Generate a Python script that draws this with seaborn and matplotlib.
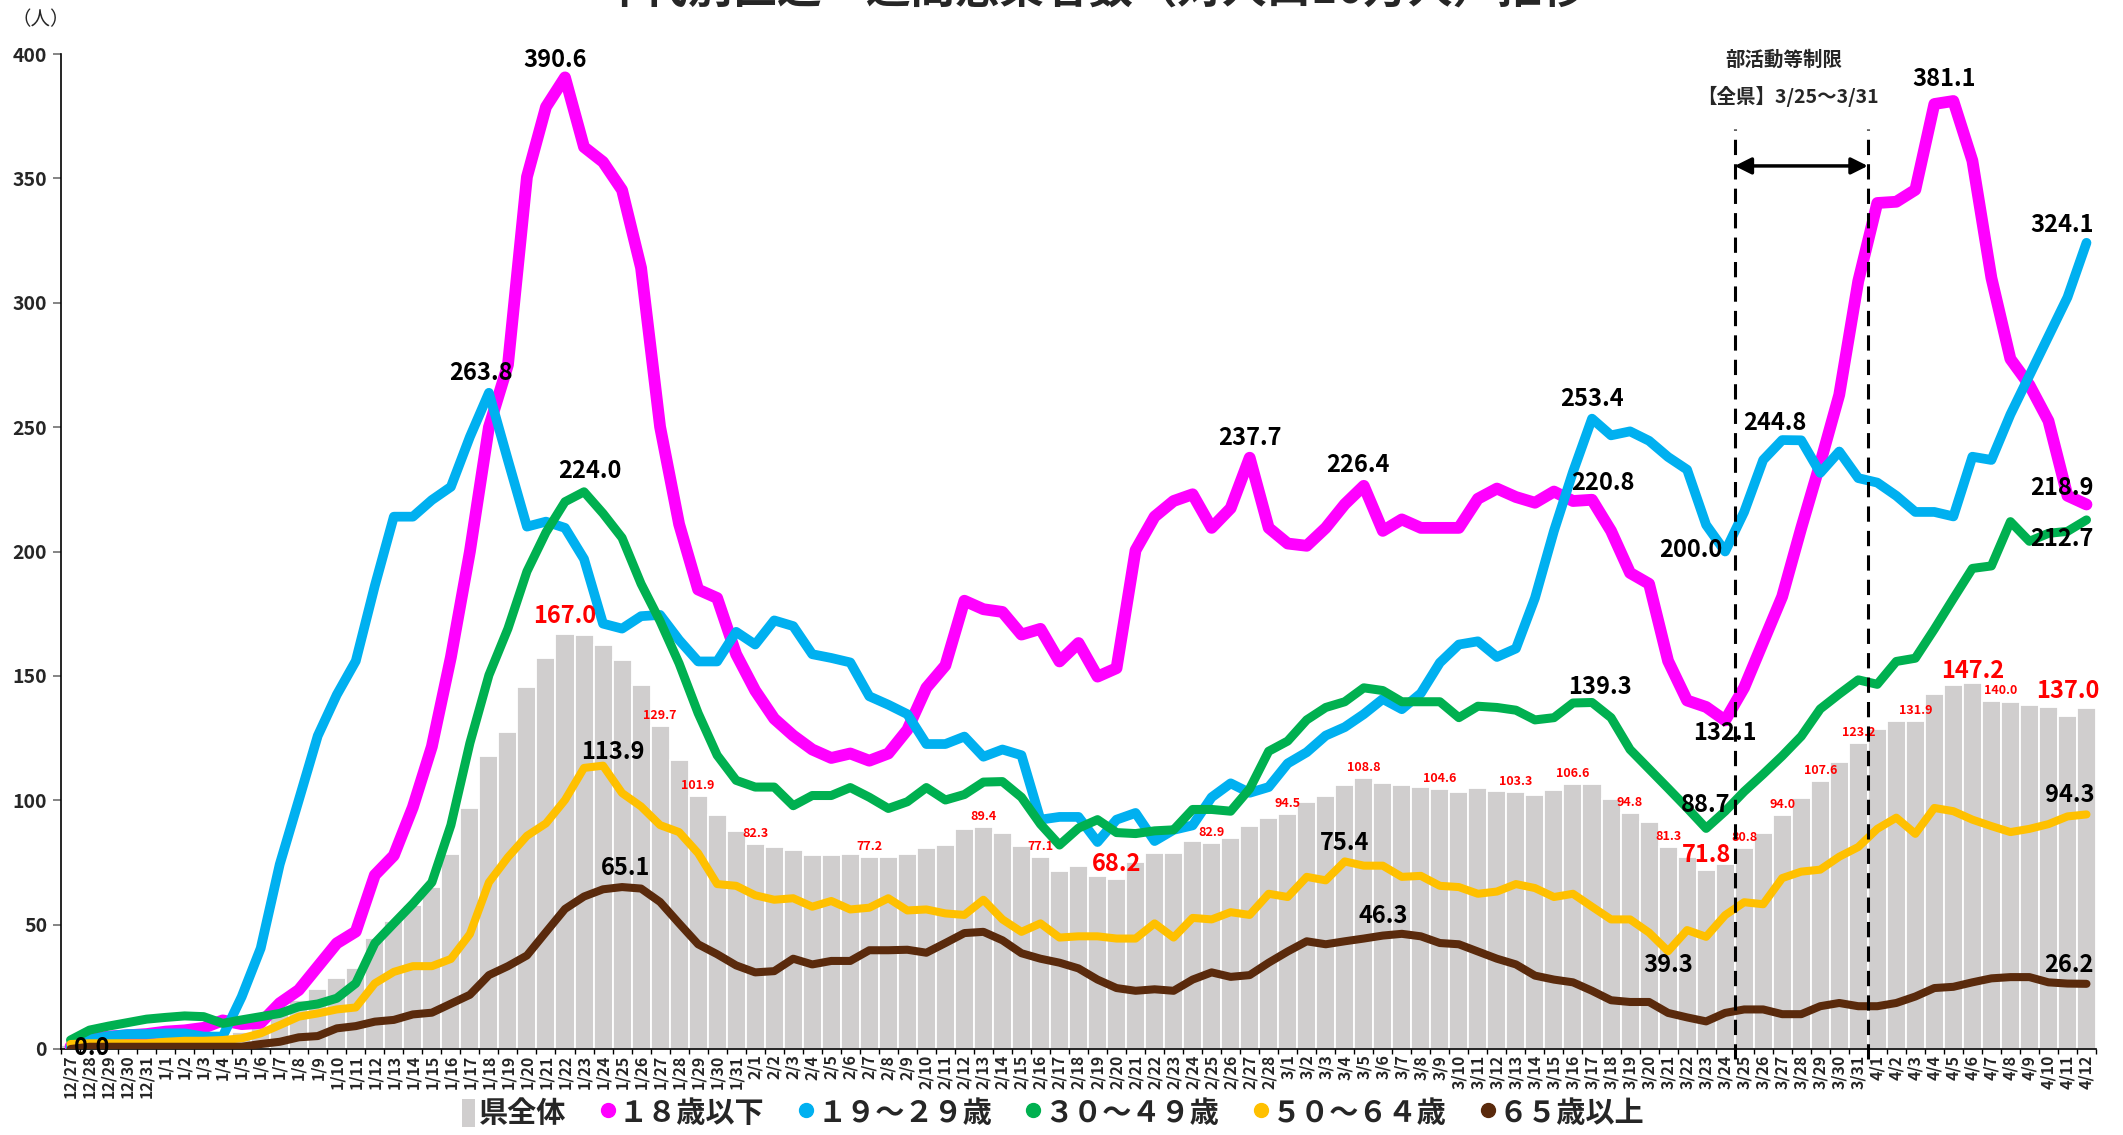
import pandas as pd
import numpy as np
import matplotlib
matplotlib.use("Agg")
import matplotlib.pyplot as plt
import seaborn as sns
from matplotlib.patches import Patch
from matplotlib.lines import Line2D

dates = [f"{d.month}/{d.day}" for d in pd.date_range("2020-12-27", "2021-04-12")]

total = [1.5, 3.0, 3.7, 4.2, 4.6, 5.0, 5.3, 5.4, 5.3, 7.0, 9.0, 14.0, 19.7, 24.0, 28.5, 32.6,
         44.8, 51.5, 58.0, 65.2, 78.5, 96.9, 117.6, 127.3, 145.7, 157.3, 167.0, 166.5, 162.4, 156.3,
         146.2, 129.7, 116.3, 101.9, 94.2, 87.5, 82.3, 81.4, 80.2, 77.8, 77.8, 78.4, 77.2, 77.3,
         78.4, 80.7, 82.0, 88.6, 89.4, 86.8, 81.6, 77.1, 71.5, 73.5, 69.6, 68.2, 75.3, 78.7, 78.7,
         83.6, 82.9, 85.0, 89.7, 92.7, 94.5, 99.4, 101.9, 106.2, 108.8, 106.9, 106.0, 105.5, 104.6,
         103.5, 105.1, 103.9, 103.3, 102.1, 104.2, 106.6, 106.6, 100.5, 94.8, 91.1, 81.3, 77.0,
         71.8, 74.2, 80.8, 87.0, 94.0, 100.8, 107.6, 115.2, 123.2, 128.8, 131.7, 131.9, 142.9,
         146.3, 147.2, 140.0, 139.3, 138.2, 137.5, 134.0, 137.0]

age_18 = [1.0, 4.0, 5.0, 5.5, 6.0, 7.0, 7.5, 8.5, 11.5, 10.0, 10.5, 18.4, 23.7, 33.1, 42.5, 47.2,
          69.9, 77.8, 97.2, 121.6, 157.5, 200.0, 250.0, 275.0, 350.6, 378.7, 390.6, 362.6, 356.6,
          345.3, 314.0, 250.1, 211.0, 184.7, 181.3, 158.7, 144.1, 132.8, 126.0, 120.4, 117.0, 118.8,
          115.9, 118.8, 128.3, 145.2, 154.2, 180.2, 176.8, 175.7, 166.6, 168.9, 155.8, 163.2, 149.7,
          153.1, 200.5, 214.0, 220.3, 223.0, 209.5, 217.4, 237.7, 209.5, 203.2, 202.3, 209.5, 219.0,
          226.4, 208.3, 212.9, 209.5, 209.5, 209.5, 221.2, 225.3, 221.9, 219.6, 224.1, 220.3, 220.8,
          208.3, 191.4, 187.0, 156.0, 140.1, 137.5, 132.1, 145.3, 163.6, 181.9, 209.4, 235.5, 263.0,
          308.7, 340.1, 340.6, 345.4, 379.9, 381.1, 357.1, 310.0, 277.4, 266.9, 252.5, 222.4, 218.9]

age_19_29 = [0.9, 3.9, 5.2, 6.0, 6.0, 6.3, 6.3, 5.0, 5.0, 21.0, 40.5, 74.2, 100.0, 125.9, 142.4,
             156.0, 186.2, 214.0, 214.0, 220.7, 226.0, 246.1, 263.8, 236.7, 210.0, 212.0, 209.5,
             197.0, 171.0, 169.0, 174.0, 174.5, 164.4, 155.8, 155.8, 167.7, 162.6, 172.3, 170.0,
             158.7, 157.2, 155.4, 141.8, 138.4, 134.6, 122.6, 122.6, 125.6, 117.5, 120.4, 118.1,
             92.2, 93.3, 93.3, 83.2, 92.2, 94.9, 83.6, 88.1, 89.9, 101.2, 106.8, 103.0, 105.3,
             114.8, 119.3, 126.0, 129.4, 134.6, 140.7, 136.6, 143.0, 155.3, 162.6, 163.9, 157.6,
             161.0, 181.3, 208.3, 232.0, 253.4, 246.7, 248.3, 244.5, 238.0, 232.9, 210.7, 200.0,
             215.9, 236.8, 244.8, 244.7, 231.6, 240.2, 229.5, 227.7, 222.4, 215.9, 215.9, 214.1,
             238.1, 236.8, 255.1, 270.8, 286.5, 302.2, 324.1]

age_30_49 = [3.6, 7.6, 9.2, 10.6, 12.0, 12.7, 13.3, 13.0, 10.3, 11.7, 13.0, 14.3, 17.0, 18.1, 20.4,
             26.4, 42.5, 50.5, 58.4, 67.0, 90.0, 123.0, 150.3, 169.0, 192.0, 207.7, 220.0, 224.0,
             215.3, 205.5, 187.0, 172.0, 155.0, 135.0, 118.1, 108.0, 105.3, 105.3, 97.8, 101.9,
             101.9, 105.1, 101.2, 96.7, 99.4, 105.1, 100.1, 102.3, 107.3, 107.5, 101.2, 90.4, 82.0,
             88.8, 92.2, 87.0, 86.6, 87.7, 88.1, 96.3, 96.3, 95.6, 104.6, 119.7, 123.8, 132.3,
             137.3, 139.6, 145.2, 144.1, 139.6, 139.6, 139.6, 133.2, 137.8, 137.3, 136.2, 132.3,
             133.2, 139.1, 139.3, 133.2, 120.4, 112.6, 104.8, 96.9, 88.7, 95.6, 103.5, 110.5, 117.8,
             125.7, 136.7, 142.7, 148.4, 146.6, 155.8, 157.1, 168.8, 181.1, 193.2, 194.2, 212.0,
             204.1, 207.3, 208.1, 212.7]

age_50_64 = [2.0, 2.3, 2.3, 2.3, 2.3, 2.9, 3.3, 3.3, 3.6, 4.3, 6.3, 9.6, 13.0, 14.3, 15.9, 16.7,
             26.4, 31.0, 33.3, 33.3, 36.2, 46.2, 67.0, 77.1, 85.7, 90.7, 100.1, 113.0, 113.9, 102.9,
             97.5, 90.0, 87.2, 78.7, 66.3, 65.6, 61.8, 60.0, 60.6, 57.2, 59.5, 56.1, 56.8, 60.6, 55.7,
             56.1, 54.5, 53.9, 60.0, 52.1, 47.1, 50.5, 44.8, 45.3, 45.3, 44.4, 44.4, 50.5, 44.8, 52.7,
             52.1, 55.0, 53.9, 62.4, 61.1, 69.2, 67.8, 75.4, 73.7, 73.7, 69.2, 69.6, 65.6, 65.1, 62.4,
             63.3, 66.3, 64.7, 61.1, 62.4, 57.2, 52.1, 52.1, 46.8, 39.3, 47.8, 45.1, 53.8, 59.0, 58.2,
             68.7, 71.3, 72.1, 77.3, 81.2, 88.5, 93.0, 86.5, 96.9, 95.6, 92.2, 89.6, 87.2, 88.5, 90.4,
             93.5, 94.3]

age_65 = [0.0, 0.9, 0.9, 0.9, 0.9, 0.9, 0.9, 0.9, 0.9, 0.9, 2.0, 2.9, 4.7, 5.2, 8.3, 9.2, 11.0,
          11.7, 13.9, 14.6, 18.2, 21.8, 29.7, 33.3, 37.6, 47.0, 56.3, 61.3, 64.2, 65.1, 64.5, 59.1,
          50.5, 42.1, 38.1, 33.6, 30.8, 31.3, 36.3, 34.0, 35.4, 35.4, 39.7, 39.7, 39.9, 38.7, 42.6,
          46.6, 47.1, 43.7, 38.5, 36.3, 34.7, 32.4, 27.9, 24.5, 23.4, 24.0, 23.4, 27.9, 30.8, 29.0,
          29.7, 34.7, 39.2, 43.3, 42.1, 43.3, 44.4, 45.6, 46.3, 45.3, 42.6, 42.1, 39.2, 36.3, 34.0,
          29.5, 27.9, 26.8, 23.4, 19.6, 18.9, 18.9, 14.5, 12.7, 11.1, 14.5, 15.9, 15.9, 14.0, 14.0,
          17.2, 18.5, 17.2, 17.2, 18.5, 21.1, 24.5, 25.0, 26.8, 28.4, 28.9, 28.9, 26.8, 26.3, 26.2]

series_names = ["１８歳以下", "１９～２９歳", "３０～４９歳", "５０～６４歳", "６５歳以上"]
series_values = [age_18, age_19_29, age_30_49, age_50_64, age_65]
series_colors = ["#FF00FF", "#00B0F0", "#00B050", "#FFC000", "#5A2A0C"]
series_widths = [8.5, 7.0, 6.5, 5.8, 5.8]
bar_color = "#D0CECE"

# labels on lines: (series no., index, dx, dy)
line_labels = [(0, 26, -0.5, 7), (1, 22, -0.4, 8), (2, 27, 0.3, 8.4), (3, 28, 0.5, 5.6),
               (4, 29, 0.2, 7.7), (4, 0, 1.1, 0.3), (0, 62, 0, 8), (0, 68, -0.3, 8.3),
               (3, 67, 0, 7.3), (4, 70, -1.0, 7.1), (1, 80, 0, 8), (0, 80, 0.6, 6.7),
               (2, 80, 0.4, 6.3), (1, 87, -1.8, 0.7), (0, 87, 0, -5), (2, 86, 0, 9.5),
               (3, 84, 0, -5.7), (1, 90, -0.4, 7), (0, 99, -0.5, 8.7), (1, 106, -1.3, 7),
               (0, 106, -1.3, 6.7), (2, 106, -1.3, -7.8), (3, 106, -0.9, 7.9), (4, 106, -0.9, 7.4)]
big_red = [(26, 0, 7), (55, 0, 6), (86, 0, 6), (100, 0, 4.6), (106, -1.0, 7)]
small_red = [31, 33, 36, 42, 48, 51, 60, 64, 68, 72, 76, 79, 82, 84, 88, 90, 92, 94, 97, 101]

sns.set_style("white")
fam = ["Noto Sans CJK JP", "DejaVu Sans"]
plt.rcParams["font.family"] = fam

fig = plt.figure(figsize=(21.23, 11.35), dpi=100)
ax = fig.add_axes([61 / 2123, 86 / 1135, 2035 / 2123, 995 / 1135])

n = len(dates)
idx = np.arange(n)
sns.barplot(x=dates, y=total, color=bar_color, width=1.0, edgecolor="white",
            linewidth=1.3, saturation=1, ax=ax, zorder=1)

for vals, col, lw in zip(series_values, series_colors, series_widths):
    sns.lineplot(x=idx, y=vals, color=col, linewidth=lw, ax=ax, legend=False,
                 solid_joinstyle="round", solid_capstyle="round", zorder=3)

ax.set_xlim(-0.5, n - 0.5)
ax.set_ylim(0, 400)
ax.set_xlabel("")
ax.set_ylabel("")
for s in ["top", "right"]:
    ax.spines[s].set_visible(False)
for s in ["left", "bottom"]:
    ax.spines[s].set_color("black")
    ax.spines[s].set_linewidth(1.2)

ax.set_yticks(np.arange(0, 401, 50))
ax.set_yticklabels([str(v) for v in range(0, 401, 50)], fontsize=14, fontweight="bold")
ax.tick_params(axis="y", length=6, width=1.2, color="#707070", direction="out", left=True, pad=4)

ax.set_xticks(idx)
ax.set_xticklabels(dates, rotation=90, fontsize=11.5, fontweight="bold", va="top", ha="center")
ax.set_xticks(np.arange(-0.5, n, 1), minor=True)
ax.tick_params(axis="x", which="major", length=0, pad=4, bottom=True)
ax.tick_params(axis="x", which="minor", length=3.5, width=1, color="black", bottom=True)

# labels on lines
for k, i, dx, dy in line_labels:
    v = series_values[k][i]
    ax.text(i + dx, v + dy, f"{v:.1f}", ha="center", va="center", fontsize=17,
            fontweight="bold", color="black", zorder=6)

for i, dx, dy in big_red:
    ax.text(i + dx, total[i] + dy, f"{total[i]:.1f}", ha="center", va="center", fontsize=17,
            fontweight="bold", color="#FF0000", zorder=6)
for i in small_red:
    dx = 0.5 if i == 101 else 0
    ax.text(i + dx, total[i] + 4.2, f"{total[i]:.1f}", ha="center", va="center", fontsize=9,
            fontweight="bold", color="#FF0000", zorder=6)

# restriction period
start = dates.index("3/25") - 0.5
end = dates.index("3/31") + 0.5
for xv in (start, end):
    ax.plot([xv, xv], [-4, 370], color="black", linestyle=(0, (5, 3)), linewidth=2.2,
            clip_on=False, zorder=7)
ax.annotate("", xy=(start, 355), xytext=(end, 355),
            arrowprops=dict(arrowstyle="<|-|>", color="black", lw=2.5, mutation_scale=25,
                            shrinkA=0, shrinkB=0), zorder=7)
ax.text((start + end) / 2 - 0.9, 397.7, "部活動等制限", ha="center", va="center",
        fontsize=14, fontweight="bold", clip_on=False)
ax.text((start + end) / 2 - 0.7, 382.8, "【全県】3/25～3/31", ha="center", va="center",
        fontsize=14, fontweight="bold", clip_on=False)

fig.text(0.515, 1.008, "年代別直近一週間感染者数（対人口10万人）推移", ha="center", va="center",
         fontsize=32, fontweight="bold")
fig.text(0.019, 0.983, "（人）", ha="center", va="center", fontsize=14)

handles = [Patch(facecolor=bar_color, edgecolor="none")]
for col in series_colors:
    handles.append(Line2D([], [], color=col, marker="o", linestyle="", markersize=10))
fig.legend(handles, ["県全体"] + series_names, loc="center", bbox_to_anchor=(0.496, 0.019),
           ncol=6, frameon=False, prop={"family": fam, "weight": "bold", "size": 21},
           handlelength=0.45, handleheight=1.1, handletextpad=0.15, columnspacing=1.2)

fig.savefig("out.png", dpi=100)
